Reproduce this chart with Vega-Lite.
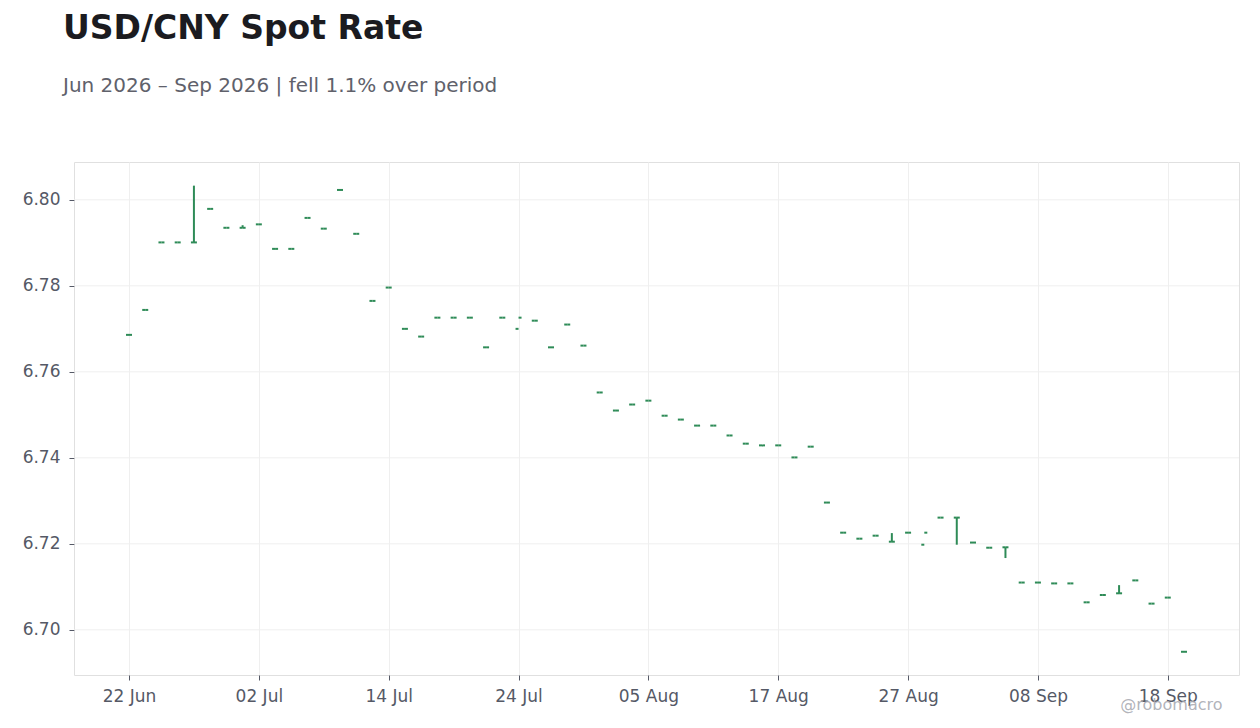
{
  "$schema": "https://vega.github.io/schema/vega-lite/v6.json",
  "description": "USD/CNY spot rate, daily OHLC, business days only",
  "autosize": "none",
  "width": 1165,
  "height": 513,
  "padding": {"left": 74, "top": 162, "right": 21, "bottom": 53},
  "background": "white",
  "title": {
    "text": "USD/CNY Spot Rate",
    "subtitle": "Jun 2026 – Sep 2026 | fell 1.1% over period",
    "anchor": "start",
    "frame": "group",
    "dx": -11,
    "offset": 66,
    "font": "DejaVu Sans",
    "fontSize": 33,
    "fontWeight": "bold",
    "color": "#1b1b20",
    "subtitleFont": "DejaVu Sans",
    "subtitleFontSize": 20,
    "subtitleColor": "#60616b",
    "subtitlePadding": 30
  },
  "config": {
    "view": {"stroke": "#e0e0e0", "strokeWidth": 1},
    "axis": {
      "labelFont": "DejaVu Sans",
      "labelFontSize": 17,
      "labelColor": "#555966",
      "gridColor": "#efefef",
      "gridWidth": 1,
      "domain": false,
      "tickColor": "#555966",
      "tickSize": 5,
      "labelPadding": 8
    }
  },
  "datasets": {
    "grid": [{"v": 6.70}, {"v": 6.72}, {"v": 6.74}, {"v": 6.76}, {"v": 6.78}, {"v": 6.80}],
    "ohlc": [
      {"date": "2026-06-22", "open": 6.7686, "high": 6.7686, "low": 6.7686, "close": 6.7686},
      {"date": "2026-06-23", "open": 6.7744, "high": 6.7744, "low": 6.7744, "close": 6.7744},
      {"date": "2026-06-24", "open": 6.7901, "high": 6.7901, "low": 6.7901, "close": 6.7901},
      {"date": "2026-06-25", "open": 6.7901, "high": 6.7901, "low": 6.7901, "close": 6.7901},
      {"date": "2026-06-26", "open": 6.7901, "high": 6.8033, "low": 6.7901, "close": 6.7901},
      {"date": "2026-06-29", "open": 6.7979, "high": 6.7979, "low": 6.7979, "close": 6.7979},
      {"date": "2026-06-30", "open": 6.7935, "high": 6.7935, "low": 6.7935, "close": 6.7935},
      {"date": "2026-07-01", "open": 6.7935, "high": 6.7941, "low": 6.7935, "close": 6.7935},
      {"date": "2026-07-02", "open": 6.7943, "high": 6.7943, "low": 6.7943, "close": 6.7943},
      {"date": "2026-07-03", "open": 6.7886, "high": 6.7886, "low": 6.7886, "close": 6.7886},
      {"date": "2026-07-06", "open": 6.7886, "high": 6.7886, "low": 6.7886, "close": 6.7886},
      {"date": "2026-07-07", "open": 6.7958, "high": 6.7958, "low": 6.7958, "close": 6.7958},
      {"date": "2026-07-08", "open": 6.7933, "high": 6.7933, "low": 6.7933, "close": 6.7933},
      {"date": "2026-07-09", "open": 6.8023, "high": 6.8023, "low": 6.8023, "close": 6.8023},
      {"date": "2026-07-10", "open": 6.7921, "high": 6.7921, "low": 6.7921, "close": 6.7921},
      {"date": "2026-07-13", "open": 6.7765, "high": 6.7765, "low": 6.7765, "close": 6.7765},
      {"date": "2026-07-14", "open": 6.7796, "high": 6.7796, "low": 6.7796, "close": 6.7796},
      {"date": "2026-07-15", "open": 6.7700, "high": 6.7700, "low": 6.7700, "close": 6.7700},
      {"date": "2026-07-16", "open": 6.7682, "high": 6.7682, "low": 6.7682, "close": 6.7682},
      {"date": "2026-07-17", "open": 6.7726, "high": 6.7726, "low": 6.7726, "close": 6.7726},
      {"date": "2026-07-20", "open": 6.7726, "high": 6.7726, "low": 6.7726, "close": 6.7726},
      {"date": "2026-07-21", "open": 6.7726, "high": 6.7726, "low": 6.7726, "close": 6.7726},
      {"date": "2026-07-22", "open": 6.7657, "high": 6.7657, "low": 6.7657, "close": 6.7657},
      {"date": "2026-07-23", "open": 6.7726, "high": 6.7726, "low": 6.7726, "close": 6.7726},
      {"date": "2026-07-24", "open": 6.7700, "high": 6.7700, "low": 6.7700, "close": 6.7726},
      {"date": "2026-07-27", "open": 6.7719, "high": 6.7719, "low": 6.7719, "close": 6.7719},
      {"date": "2026-07-28", "open": 6.7657, "high": 6.7657, "low": 6.7657, "close": 6.7657},
      {"date": "2026-07-29", "open": 6.7710, "high": 6.7710, "low": 6.7710, "close": 6.7710},
      {"date": "2026-07-30", "open": 6.7661, "high": 6.7661, "low": 6.7661, "close": 6.7661},
      {"date": "2026-07-31", "open": 6.7552, "high": 6.7552, "low": 6.7552, "close": 6.7552},
      {"date": "2026-08-03", "open": 6.7510, "high": 6.7510, "low": 6.7510, "close": 6.7510},
      {"date": "2026-08-04", "open": 6.7524, "high": 6.7524, "low": 6.7524, "close": 6.7524},
      {"date": "2026-08-05", "open": 6.7533, "high": 6.7533, "low": 6.7533, "close": 6.7533},
      {"date": "2026-08-06", "open": 6.7498, "high": 6.7498, "low": 6.7498, "close": 6.7498},
      {"date": "2026-08-07", "open": 6.7489, "high": 6.7489, "low": 6.7489, "close": 6.7489},
      {"date": "2026-08-10", "open": 6.7475, "high": 6.7475, "low": 6.7475, "close": 6.7475},
      {"date": "2026-08-11", "open": 6.7475, "high": 6.7475, "low": 6.7475, "close": 6.7475},
      {"date": "2026-08-12", "open": 6.7452, "high": 6.7452, "low": 6.7452, "close": 6.7452},
      {"date": "2026-08-13", "open": 6.7433, "high": 6.7433, "low": 6.7433, "close": 6.7433},
      {"date": "2026-08-14", "open": 6.7429, "high": 6.7429, "low": 6.7429, "close": 6.7429},
      {"date": "2026-08-17", "open": 6.7429, "high": 6.7429, "low": 6.7429, "close": 6.7429},
      {"date": "2026-08-18", "open": 6.7401, "high": 6.7401, "low": 6.7401, "close": 6.7401},
      {"date": "2026-08-19", "open": 6.7426, "high": 6.7426, "low": 6.7426, "close": 6.7426},
      {"date": "2026-08-20", "open": 6.7296, "high": 6.7296, "low": 6.7296, "close": 6.7296},
      {"date": "2026-08-21", "open": 6.7226, "high": 6.7226, "low": 6.7226, "close": 6.7226},
      {"date": "2026-08-24", "open": 6.7212, "high": 6.7212, "low": 6.7212, "close": 6.7212},
      {"date": "2026-08-25", "open": 6.7219, "high": 6.7219, "low": 6.7219, "close": 6.7219},
      {"date": "2026-08-26", "open": 6.7205, "high": 6.7225, "low": 6.7205, "close": 6.7205},
      {"date": "2026-08-27", "open": 6.7226, "high": 6.7226, "low": 6.7226, "close": 6.7226},
      {"date": "2026-08-28", "open": 6.7198, "high": 6.7198, "low": 6.7198, "close": 6.7226},
      {"date": "2026-08-31", "open": 6.7261, "high": 6.7261, "low": 6.7261, "close": 6.7261},
      {"date": "2026-09-01", "open": 6.7261, "high": 6.7261, "low": 6.7198, "close": 6.7261},
      {"date": "2026-09-02", "open": 6.7203, "high": 6.7203, "low": 6.7203, "close": 6.7203},
      {"date": "2026-09-03", "open": 6.7191, "high": 6.7191, "low": 6.7191, "close": 6.7191},
      {"date": "2026-09-04", "open": 6.7192, "high": 6.7192, "low": 6.7167, "close": 6.7192},
      {"date": "2026-09-07", "open": 6.7110, "high": 6.7110, "low": 6.7110, "close": 6.7110},
      {"date": "2026-09-08", "open": 6.7110, "high": 6.7110, "low": 6.7110, "close": 6.7110},
      {"date": "2026-09-09", "open": 6.7108, "high": 6.7108, "low": 6.7108, "close": 6.7108},
      {"date": "2026-09-10", "open": 6.7108, "high": 6.7108, "low": 6.7108, "close": 6.7108},
      {"date": "2026-09-11", "open": 6.7064, "high": 6.7064, "low": 6.7064, "close": 6.7064},
      {"date": "2026-09-14", "open": 6.7081, "high": 6.7081, "low": 6.7081, "close": 6.7081},
      {"date": "2026-09-15", "open": 6.7085, "high": 6.7104, "low": 6.7085, "close": 6.7085},
      {"date": "2026-09-16", "open": 6.7115, "high": 6.7115, "low": 6.7115, "close": 6.7115},
      {"date": "2026-09-17", "open": 6.7061, "high": 6.7061, "low": 6.7061, "close": 6.7061},
      {"date": "2026-09-18", "open": 6.7075, "high": 6.7075, "low": 6.7075, "close": 6.7075},
      {"date": "2026-09-21", "open": 6.6949, "high": 6.6949, "low": 6.6949, "close": 6.6949}
    ]
  },
  "layer": [
    {
      "data": {"name": "grid"},
      "mark": {"type": "rule", "color": "#efefef", "strokeWidth": 1},
      "encoding": {
        "y": {
          "field": "v",
          "type": "quantitative",
          "scale": {"domain": [6.6895, 6.8088], "nice": false, "zero": false},
          "axis": {
            "values": [6.70, 6.72, 6.74, 6.76, 6.78, 6.80],
            "format": ".2f",
            "title": null,
            "grid": false,
            "labelPadding": 9
          }
        }
      }
    },
    {
      "data": {"name": "ohlc"},
      "encoding": {
        "x": {
          "field": "date",
          "type": "ordinal",
          "sort": null,
          "scale": {"type": "point", "padding": 0, "range": [55, 1110]},
          "axis": {
            "values": ["2026-06-22", "2026-07-02", "2026-07-14", "2026-07-24", "2026-08-05", "2026-08-17", "2026-08-27", "2026-09-08", "2026-09-18"],
            "labelExpr": "utcFormat(toDate(datum.value), '%d %b')",
            "labelAngle": 0,
            "grid": true,
            "title": "@robomacro",
            "titleFont": "DejaVu Sans",
            "titleFontSize": 16,
            "titleFontWeight": "normal",
            "titleColor": "#a9aab2",
            "titleOpacity": 0.9,
            "titleAnchor": "end",
            "titleAlign": "right",
            "titleBaseline": "alphabetic",
            "titleX": 1148,
            "titleY": 34
          }
        },
        "color": {"value": "#2e8b57"}
      },
      "layer": [
        {
          "mark": {"type": "rule", "strokeWidth": 2},
          "encoding": {
            "y": {"field": "low", "type": "quantitative"},
            "y2": {"field": "high"}
          }
        },
        {
          "mark": {"type": "tick", "orient": "horizontal", "size": 3, "thickness": 2, "xOffset": -1.5, "opacity": 1},
          "encoding": {
            "y": {"field": "open", "type": "quantitative"}
          }
        },
        {
          "mark": {"type": "tick", "orient": "horizontal", "size": 3, "thickness": 2, "xOffset": 1.5, "opacity": 1},
          "encoding": {
            "y": {"field": "close", "type": "quantitative"}
          }
        }
      ]
    }
  ]
}
